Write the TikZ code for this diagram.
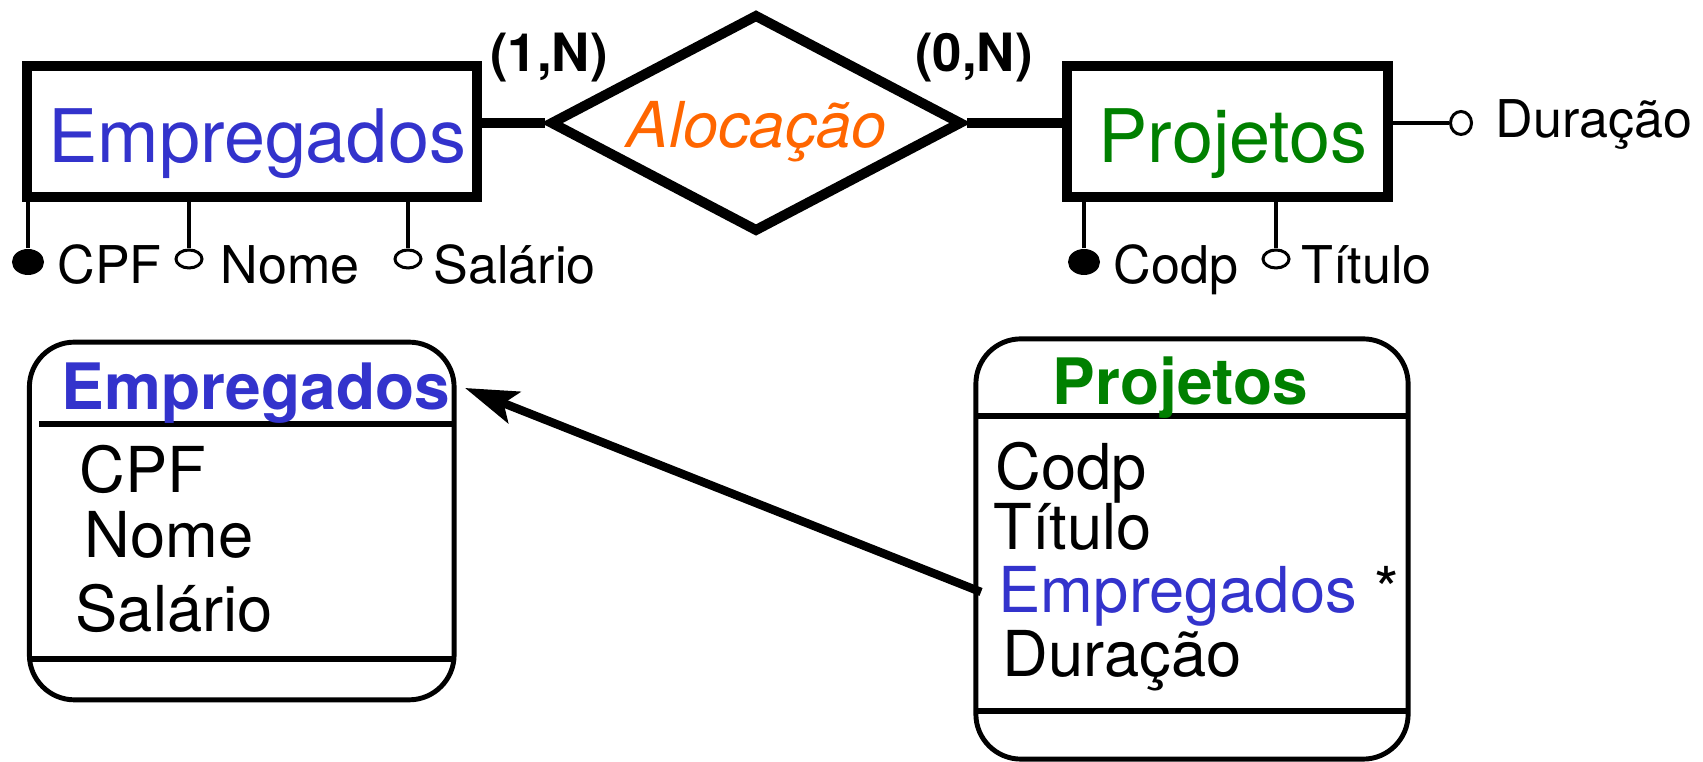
\documentclass[tikz,border=0pt]{standalone}
\usepackage{fontspec}
\setmainfont{TeX Gyre Heros}
\usetikzlibrary{arrows.meta,shapes.geometric}
\usepackage{xcolor}
\definecolor{empblue}{RGB}{51,51,204}
\definecolor{projgreen}{RGB}{0,128,0}
\definecolor{relorange}{RGB}{255,102,0}

\tikzset{
  entity/.style={draw,line width=2.85pt,minimum height=1.31cm,inner sep=0pt},
  relation/.style={diamond,draw,line width=2.85pt,minimum width=4.12cm,minimum height=2.18cm,inner sep=0pt},
  erline/.style={line width=2.7pt,line cap=butt},
  entitytext/.style={font=\fontsize{21pt}{25pt}\selectfont,inner sep=0pt,anchor=base},
  reltext/.style={font=\fontsize{18pt}{22pt}\selectfont\itshape,text=relorange,inner sep=0pt,anchor=base},
  card/.style={font=\fontsize{15pt}{18pt}\selectfont\bfseries,inner sep=0pt,anchor=base},
  keyattr/.style={ellipse,fill,minimum width=0.32cm,minimum height=0.26cm,inner sep=0pt},
  attr/.style={ellipse,draw,line width=0.85pt,minimum width=0.26cm,minimum height=0.18cm,inner sep=0pt},
  attrline/.style={line width=0.95pt,line cap=butt},
  attrtext/.style={font=\fontsize{14.8pt}{17pt}\selectfont,inner sep=0pt,anchor=base west},
  classbox/.style={draw,rounded corners=0.45cm,line width=1.4pt,inner sep=0pt},
  sepline/.style={line width=1.7pt,line cap=butt},
  classtitle/.style={font=\fontsize{18.2pt}{21pt}\selectfont\bfseries,inner sep=0pt,anchor=base west},
  classattr/.style={font=\fontsize{18pt}{21pt}\selectfont,inner sep=0pt,anchor=base west},
  refarrow/.style={-{Stealth[length=15pt,width=9.5pt,inset=3.2pt]},line width=2.4pt,line cap=butt}
}

\begin{document}
\begin{tikzpicture}[x=0.01cm,y=-0.01cm]
\useasboundingbox (0,0) rectangle (1703,762);
% entidade-relacionamento
\node[entity,minimum width=4.50cm] (emp) at (252,131.5) {};
\node[entitytext,text=empblue] (empname) at (257,163) {Empregados};
\node[entity,minimum width=3.21cm] (proj) at (1227.5,131.5) {};
\node[entitytext,text=projgreen] (projname) at (1233,163) {Projetos};
\node[relation] (aloc) at (756,123) {};
\node[reltext] (alocname) at (757,148) {Alocação};
\draw[erline] (emp.east |- aloc.west) -- (aloc.west);
\draw[erline] (aloc.east) -- (proj.west |- aloc.east);
\node[card] (card1) at (549,72) {(1,N)};
\node[card] (card2) at (974,72) {(0,N)};
\node[keyattr] (cpf) at (28,262) {};
\node[attr] (nome) at (189,259) {};
\node[attr] (sal) at (408,259) {};
\draw[attrline] (cpf) -- (cpf |- emp.south);
\draw[attrline] (nome) -- (nome |- emp.south);
\draw[attrline] (sal) -- (sal |- emp.south);
\node[attrtext] (cpfname) at (57,284) {CPF};
\node[attrtext] (nomename) at (220,284) {Nome};
\node[attrtext] (salname) at (433,284) {Salário};
\node[keyattr] (codp) at (1084,262) {};
\node[attr] (tit) at (1276,259) {};
\node[attr,minimum width=0.21cm,minimum height=0.23cm] (dur) at (1461,123) {};
\draw[attrline] (codp) -- (codp |- proj.south);
\draw[attrline] (tit) -- (tit |- proj.south);
\draw[attrline] (dur) -- (proj.east |- dur);
\node[attrtext] (codpname) at (1113,284) {Codp};
\node[attrtext] (titname) at (1301,284) {Título};
\node[attrtext] (durname) at (1495,138) {Duração};
% classes
\node[classbox,minimum width=4.245cm,minimum height=3.575cm] (empc) at (241.75,521) {};
\draw[sepline] (39,424) -- (454,424);
\draw[sepline] (29.5,659) -- (454,659);
\node[classtitle,text=empblue] (empctitle) at (61,410) {Empregados};
\node[classattr] (empccpf) at (79,493) {CPF};
\node[classattr] (empcnome) at (84,558) {Nome};
\node[classattr] (empcsal) at (75,632) {Salário};
\node[classbox,minimum width=4.32cm,minimum height=4.20cm] (projc) at (1192,549) {};
\draw[sepline] (976,416) -- (1408,416);
\draw[sepline] (976,711) -- (1408,711);
\node[classtitle,text=projgreen] (projctitle) at (1052,405) {Projetos};
\node[classattr] (projccodp) at (995,490) {Codp};
\node[classattr] (projctit) at (993,550) {Título};
\node[classattr] (projcemp) at (998,613) {\textcolor{empblue}{Empregados} *};
\node[classattr] (projcdur) at (1002,677) {Duração};
\coordinate (fkstart) at (981,592);
\coordinate (fkend) at (465,388);
\draw[refarrow] (fkstart) -- (fkend);
\end{tikzpicture}
\end{document}
